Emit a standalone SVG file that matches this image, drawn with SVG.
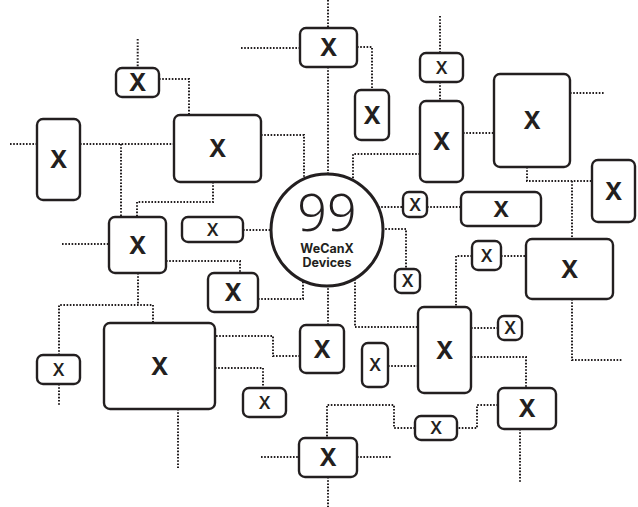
<svg xmlns="http://www.w3.org/2000/svg" width="638" height="507" viewBox="0 0 638 507">
<style>
.bg{fill:#ffffff}
.c path{fill:none;stroke:#231f20;stroke-width:2;stroke-dasharray:1.6 1.6}
.n rect{fill:#ffffff;stroke:#231f20;stroke-width:2.4}
.n text{fill:#231f20;font-family:Inter,"Noto Sans","Liberation Sans",sans-serif;text-anchor:middle;dominant-baseline:central}
.b{font-size:24px;font-weight:700}
.m{font-size:22px;font-weight:700}
.s{font-size:17px;font-weight:600}
.hub circle{fill:#ffffff;stroke:#231f20;stroke-width:3}
.hub text{fill:#231f20;text-anchor:middle;font-style:normal}
.big{font-family:"Noto Sans","Open Sans","Liberation Sans",sans-serif;font-weight:300;font-size:52px}
.lab{font-family:Inter,"Noto Sans","Liberation Sans",sans-serif;font-weight:700;font-size:12.5px}
</style>
<rect class="bg" x="0" y="0" width="638" height="507"/>
<g id="connectors" class="c">
<path d="M137.7 39V68"/>
<path d="M159 79H189V115"/>
<path d="M10 144H37"/>
<path d="M80 144H174"/>
<path d="M121 144V217"/>
<path d="M261 135H304V180"/>
<path d="M213 182V202H137V217"/>
<path d="M62 244H109"/>
<path d="M243 230H272"/>
<path d="M241 48H300"/>
<path d="M328 0V28"/>
<path d="M328 67V175"/>
<path d="M357 47H372V90"/>
<path d="M440 16V53"/>
<path d="M440 82V101"/>
<path d="M420 154H353V181"/>
<path d="M463 133H494"/>
<path d="M570 93H605"/>
<path d="M527 167V181H592"/>
<path d="M572 181V239"/>
<path d="M378 207H403"/>
<path d="M427 207H461"/>
<path d="M382 229H406V269"/>
<path d="M472 256H456V307"/>
<path d="M501 256H526"/>
<path d="M572 299V360H623"/>
<path d="M355 279V327H418"/>
<path d="M471 328H498"/>
<path d="M471 357H526V388"/>
<path d="M520 429V483"/>
<path d="M498 405H477V428H457"/>
<path d="M415 428H394V405H327V438"/>
<path d="M261 457H299"/>
<path d="M357 457H392"/>
<path d="M328 477V507"/>
<path d="M388 366H418"/>
<path d="M328 285V325"/>
<path d="M300 356H273V336H215"/>
<path d="M215 368H263V388"/>
<path d="M178 409V468"/>
<path d="M59 384V406"/>
<path d="M59 355V305H153V323"/>
<path d="M138 273V305"/>
<path d="M166 261H240V273"/>
<path d="M258 299H303V280"/>
</g>
<g id="hub" class="hub">
<circle cx="327" cy="230" r="56"/>
<text class="big" x="327" y="231">99</text>
<text class="lab" x="327" y="253">WeCanX</text>
<text class="lab" x="327" y="267">Devices</text>
</g>
<g id="nA" class="n"><rect x="116" y="68" width="43" height="29" rx="6"/><text class="b" x="137.5" y="82.5">X</text></g>
<g id="nB" class="n"><rect x="174" y="115" width="87" height="67" rx="6"/><text class="b" x="217.5" y="148.5">X</text></g>
<g id="nC" class="n"><rect x="37" y="119" width="43" height="81" rx="6"/><text class="b" x="58.5" y="159.5">X</text></g>
<g id="nD" class="n"><rect x="109" y="217" width="57" height="56" rx="6"/><text class="b" x="137.5" y="245">X</text></g>
<g id="nE" class="n"><rect x="182" y="217" width="61" height="25" rx="6"/><text class="s" x="212.5" y="229.5">X</text></g>
<g id="nF" class="n"><rect x="300" y="28" width="57" height="39" rx="6"/><text class="b" x="328.5" y="47.5">X</text></g>
<g id="nG" class="n"><rect x="355" y="90" width="34" height="50" rx="6"/><text class="b" x="372" y="115">X</text></g>
<g id="nH" class="n"><rect x="420" y="53" width="43" height="29" rx="6"/><text class="s" x="441.5" y="67.5">X</text></g>
<g id="nI" class="n"><rect x="420" y="101" width="43" height="81" rx="6"/><text class="b" x="441.5" y="141.5">X</text></g>
<g id="nJ" class="n"><rect x="494" y="74" width="76" height="93" rx="6"/><text class="b" x="532" y="120.5">X</text></g>
<g id="nK" class="n"><rect x="592" y="160" width="43" height="62" rx="6"/><text class="b" x="613.5" y="191">X</text></g>
<g id="nL" class="n"><rect x="526" y="239" width="87" height="60" rx="6"/><text class="b" x="569.5" y="269">X</text></g>
<g id="nM" class="n"><rect x="403" y="192" width="24" height="25" rx="6"/><text class="s" x="415" y="204.5">X</text></g>
<g id="nN" class="n"><rect x="461" y="192" width="80" height="34" rx="6"/><text class="m" x="501" y="209">X</text></g>
<g id="nO" class="n"><rect x="395" y="269" width="25" height="24" rx="6"/><text class="s" x="407.5" y="281">X</text></g>
<g id="nP" class="n"><rect x="472" y="241" width="29" height="29" rx="6"/><text class="s" x="486.5" y="255.5">X</text></g>
<g id="nQ" class="n"><rect x="418" y="307" width="53" height="86" rx="6"/><text class="b" x="444.5" y="350">X</text></g>
<g id="nR" class="n"><rect x="498" y="316" width="24" height="24" rx="6"/><text class="s" x="510" y="328">X</text></g>
<g id="nS" class="n"><rect x="498" y="388" width="58" height="41" rx="6"/><text class="b" x="527" y="408.5">X</text></g>
<g id="nT" class="n"><rect x="415" y="416" width="42" height="24" rx="6"/><text class="s" x="436" y="428">X</text></g>
<g id="nU" class="n"><rect x="299" y="438" width="58" height="39" rx="6"/><text class="b" x="328" y="457.5">X</text></g>
<g id="nV" class="n"><rect x="362" y="343" width="26" height="44" rx="6"/><text class="s" x="375" y="365">X</text></g>
<g id="nW" class="n"><rect x="300" y="325" width="44" height="48" rx="6"/><text class="b" x="322" y="349">X</text></g>
<g id="nX" class="n"><rect x="104" y="323" width="111" height="86" rx="6"/><text class="b" x="159.5" y="366">X</text></g>
<g id="nY" class="n"><rect x="243" y="388" width="43" height="29" rx="6"/><text class="s" x="264.5" y="402.5">X</text></g>
<g id="nZ" class="n"><rect x="37" y="355" width="43" height="29" rx="6"/><text class="s" x="58.5" y="369.5">X</text></g>
<g id="nAA" class="n"><rect x="208" y="273" width="50" height="39" rx="6"/><text class="b" x="233" y="292.5">X</text></g>
</svg>
